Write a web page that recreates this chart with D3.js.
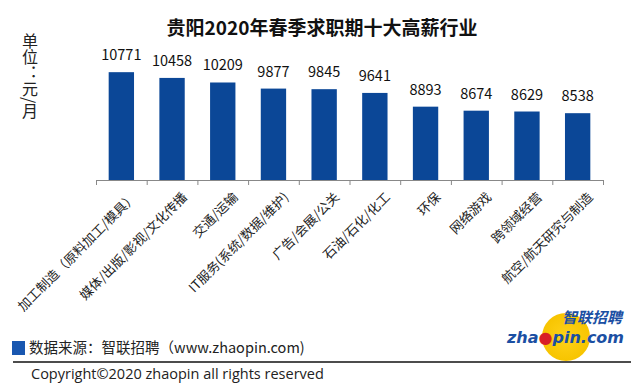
<!DOCTYPE html>
<html>
<head>
<meta charset="utf-8">
<script src="https://cdn.jsdelivr.net/npm/d3@7"></script>
<style>
  body { margin: 0; background: #fff; }
  svg { display: block; font-family: "Noto Sans CJK SC", sans-serif; }
</style>
</head>
<body>
<svg id="chart" width="640" height="387"></svg>
<script>
const width = 640;
const height = 387;

// data
const categories = ["加工制造（原料加工/模具）", "媒体/出版/影视/文化传播", "交通/运输", "IT服务(系统/数据/维护)",
  "广告/会展/公关", "石油/石化/化工", "环保", "网络游戏", "跨领域经营", "航空/航天研究与制造"];
const salaries = [10771, 10458, 10209, 9877, 9845, 9641, 8893, 8674, 8629, 8538];

const svg = d3.select("#chart");

// scales - the bars don't start at zero in the original
const x = d3.scaleBand()
  .domain(categories)
  .range([96, 603])
  .paddingInner(0.5)
  .paddingOuter(0.25);

const y = d3.scaleLinear()
  .domain([4900, 12000])
  .range([180, 49.6]);

// title
svg.append("text")
  .attr("x", 322)
  .attr("y", 35)
  .attr("text-anchor", "middle")
  .attr("font-size", 19)
  .attr("font-weight", "bold")
  .attr("fill", "#111")
  .text("贵阳2020年春季求职期十大高薪行业");

// unit label, written top to bottom
svg.append("text")
  .attr("x", 30)
  .attr("y", 33)
  .attr("font-size", 16)
  .attr("fill", "#222")
  .style("writing-mode", "vertical-rl")
  .text("单位：元/月");

// bars
svg.selectAll("rect.bar")
  .data(salaries)
  .enter().append("rect")
    .attr("class", "bar")
    .attr("x", (d, i) => x(categories[i]))
    .attr("y", d => y(d))
    .attr("width", x.bandwidth())
    .attr("height", d => y.range()[0] - y(d))
    .attr("fill", "#0b4797");

// value labels
svg.selectAll("text.value")
  .data(salaries)
  .enter().append("text")
    .attr("class", "value")
    .attr("x", (d, i) => x(categories[i]) + x.bandwidth() / 2)
    .attr("y", d => y(d) - 12)
    .attr("text-anchor", "middle")
    .attr("font-size", 14.5)
    .attr("fill", "#111")
    .text(d => d);

// x axis with ticks between the bands
const axisY = 180;
const step = x.step();
const x0 = x.range()[0];
svg.append("line")
  .attr("x1", x0).attr("x2", x.range()[1])
  .attr("y1", axisY + 0.5).attr("y2", axisY + 0.5)
  .attr("stroke", "#888");
svg.selectAll("line.tick")
  .data(d3.range(categories.length + 1))
  .enter().append("line")
    .attr("class", "tick")
    .attr("x1", i => x0 + i * step + 0.5)
    .attr("x2", i => x0 + i * step + 0.5)
    .attr("y1", axisY)
    .attr("y2", axisY + 5)
    .attr("stroke", "#888");

// rotated category labels
svg.selectAll("text.cat")
  .data(categories)
  .enter().append("text")
    .attr("class", "cat")
    .attr("text-anchor", "end")
    .attr("font-size", 13)
    .attr("fill", "#222")
    .attr("transform", d => `translate(${x(d) + x.bandwidth() / 2 + 16},${axisY + 18}) rotate(-45)`)
    .text(d => d);

// source note
svg.append("rect")
  .attr("x", 12).attr("y", 341)
  .attr("width", 13).attr("height", 14)
  .attr("fill", "#1957b0");
svg.append("text")
  .attr("x", 29).attr("y", 353)
  .attr("font-size", 14.5)
  .attr("fill", "#222")
  .text("数据来源：智联招聘（www.zhaopin.com)");

// logo
const logo = svg.append("g");
const grad = svg.append("defs").append("radialGradient")
  .attr("id", "sun");
grad.append("stop").attr("offset", "0%").attr("stop-color", "#ffd21a");
grad.append("stop").attr("offset", "100%").attr("stop-color", "#f7c400");
logo.append("circle")
  .attr("cx", 566).attr("cy", 337).attr("r", 24)
  .attr("fill", "url(#sun)");
logo.append("text")
  .attr("x", 622).attr("y", 323)
  .attr("text-anchor", "end")
  .attr("font-size", 15)
  .attr("font-weight", "bold")
  .attr("font-style", "italic")
  .attr("fill", "#1b4fa3")
  .text("智联招聘");
const url = logo.append("text")
  .attr("x", 507).attr("y", 343)
  .attr("font-family", "'DejaVu Sans', sans-serif")
  .attr("font-size", 16)
  .attr("font-weight", "bold")
  .attr("font-style", "italic")
  .attr("fill", "#1b4fa3");
url.append("tspan").text("zha");
url.append("tspan").attr("fill", "#d81f26").text("●");
url.append("tspan").text("pin.com");

// separator line and copyright
svg.append("line")
  .attr("x1", 13).attr("x2", 631)
  .attr("y1", 362).attr("y2", 362)
  .attr("stroke", "#111")
  .attr("stroke-width", 1.5);
svg.append("text")
  .attr("x", 31).attr("y", 379)
  .attr("font-family", "'Open Sans', sans-serif")
  .attr("font-size", 14.5)
  .attr("fill", "#222")
  .text("Copyright©2020 zhaopin all rights reserved");
</script>
</body>
</html>
